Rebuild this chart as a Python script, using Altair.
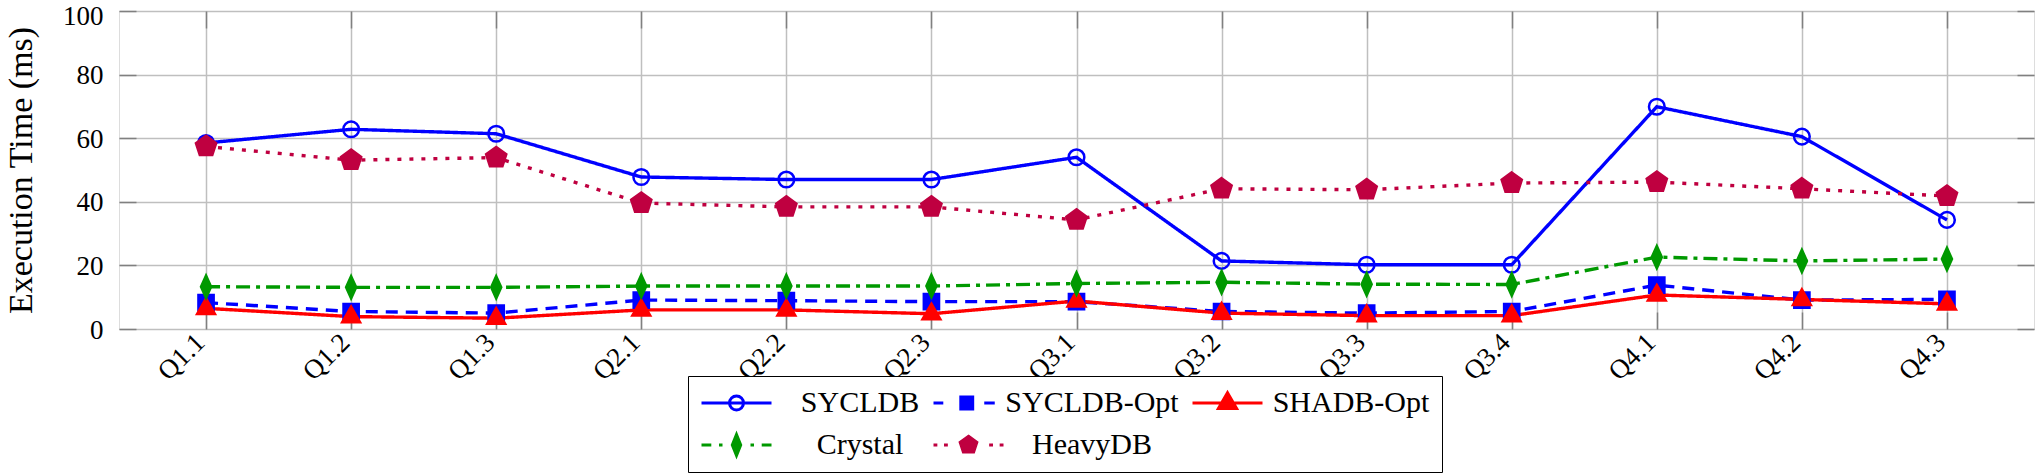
import altair as alt
import pandas as pd

queries = ["Q1.1", "Q1.2", "Q1.3", "Q2.1", "Q2.2", "Q2.3", "Q3.1",
           "Q3.2", "Q3.3", "Q3.4", "Q4.1", "Q4.2", "Q4.3"]
series = ["SYCLDB", "SYCLDB-Opt", "SHADB-Opt", "Crystal", "HeavyDB"]

sycldb = [58.5, 62.8, 61.4, 47.8, 47.0, 47.0, 54.0, 21.4, 20.2, 20.2, 69.9, 60.5, 34.3]
sycldb_opt = [8.3, 5.5, 5.0, 9.1, 8.9, 8.6, 8.6, 5.5, 5.0, 5.5, 13.8, 9.1, 9.3]
shadb_opt = [6.5, 3.9, 3.4, 6.0, 6.0, 4.8, 8.8, 5.0, 4.2, 4.2, 10.7, 9.3, 7.9]
crystal = [13.3, 13.1, 13.1, 13.5, 13.5, 13.5, 14.3, 14.7, 14.1, 14.0, 22.6, 21.4, 22.0]
heavydb = [57.4, 53.1, 53.9, 39.6, 38.4, 38.4, 34.3, 44.1, 43.8, 45.9, 46.2, 44.1, 41.8]

y_ticks = [0, 20, 40, 60, 80, 100]

colors = ["#0000FF", "#0000FF", "#FF0000", "#009900", "#BF0040"]
fills = ["transparent", "#0000FF", "#FF0000", "#009900", "#BF0040"]
dashes = [[1, 0], [12, 8], [1, 0], [14, 6, 4, 6], [4, 8]]

pent = "M0,-0.95L0.9035,-0.2936L0.5584,0.7686L-0.5584,0.7686L-0.9035,-0.2936Z"
marker_paths = [
    "M0.7,0A0.7,0.7 0 1 1 -0.7,0A0.7,0.7 0 1 1 0.7,0Z",
    "M-0.68,-0.68H0.68V0.68H-0.68Z",
    "M0,-0.9L0.8,0.5L-0.8,0.5Z",
    "M0,-1.0L0.45,0L0,1.0L-0.45,0Z",
    pent,
]
legend_paths = [
    "M-1,0H1M0.2,0A0.2,0.2 0 1 1 -0.2,0A0.2,0.2 0 1 1 0.2,0Z",
    "M-1,0H-0.72M0.45,0H0.75M-0.22,-0.17H0.12V0.17H-0.22Z",
    "M-1,0H1M0,-0.29L0.26,0.16L-0.26,0.16Z",
    "M-1,0H-0.72M-0.5,0H-0.4M0.4,0H0.5M0.72,0H1M0,-0.3L0.12,0L0,0.3L-0.12,0Z",
    "M-1,0H-0.89M-0.7,0H-0.59M0.59,0H0.7M0.89,0H1"
    "M0,-0.25L0.238,-0.077L0.147,0.202L-0.147,0.202L-0.238,-0.077Z",
]

rows = []
for s, vals in zip(series, [sycldb, sycldb_opt, shadb_opt, crystal, heavydb]):
    for q, v in zip(queries, vals):
        rows.append({"query": q, "series": s, "value": v})
df = pd.DataFrame(rows)

FONT = "Liberation Serif"
GRID = "#BFBFBF"
TICK = "#808080"

x_scale = alt.Scale(domain=queries, type="point", padding=0.6)
y_scale = alt.Scale(domain=[0, 100], nice=False, zero=True)


def tick_axis(orient, values=None):
    kw = dict(orient=orient, offset=-17, tickSize=17, tickColor=TICK, tickWidth=1.5,
              labels=False, domain=False, grid=False, title=None)
    if values is not None:
        kw["values"] = values
    return alt.Axis(**kw)


x_main = alt.Axis(orient="bottom", title=None, labelAngle=-45, labelAlign="right",
                  labelBaseline="middle", labelPadding=9, labelOffset=-6,
                  labelFont=FONT, labelFontSize=27, labelColor="black",
                  labelOverlap=False, ticks=False, domain=False, grid=True,
                  gridColor=GRID, gridWidth=1.5)
y_main = alt.Axis(orient="left", title="Execution Time (ms)", values=y_ticks,
                  labelFont=FONT, labelFontSize=27, labelColor="black", labelPadding=16,
                  labelOffset={"condition": {"test": "datum.value == 100", "value": 5}, "value": 1},
                  ticks=False, domain=False, grid=True, gridColor=GRID, gridWidth=1.5,
                  titleFont=FONT, titleFontSize=34, titleFontWeight="normal",
                  titleColor="black", titleX=-88, titleY=159, titleAngle=-90,
                  titleAlign="center", titleBaseline="alphabetic")

lines = alt.Chart(df).mark_line(strokeWidth=3.4).encode(
    x=alt.X("query:N", scale=x_scale, axis=x_main),
    y=alt.Y("value:Q", scale=y_scale, axis=y_main),
    stroke=alt.Stroke("series:N", scale=alt.Scale(domain=series, range=colors), legend=None),
    strokeDash=alt.StrokeDash("series:N", scale=alt.Scale(domain=series, range=dashes), legend=None),
    detail="series:N",
)

points = alt.Chart(df).mark_point(filled=True, opacity=1, size=500, strokeWidth=2.5).encode(
    x=alt.X("query:N", scale=x_scale, axis=tick_axis("bottom")),
    y=alt.Y("value:Q", scale=y_scale, axis=tick_axis("left", y_ticks)),
    shape=alt.Shape("series:N", scale=alt.Scale(domain=series, range=marker_paths), legend=None),
    fill=alt.Fill("series:N", scale=alt.Scale(domain=series, range=fills), legend=None),
    stroke=alt.Stroke("series:N", scale=alt.Scale(domain=series, range=colors), legend=None),
)

legend = alt.Legend(title=None, orient="none", legendX=569, legendY=365, columns=3,
                    direction="horizontal", symbolSize=4900, symbolStrokeWidth=3,
                    clipHeight=30,
                    labelFont=FONT, labelFontSize=30, labelColor="black",
                    labelAlign="center", labelOffset=87, labelLimit=400,
                    columnPadding=12, rowPadding=12, padding=12,
                    strokeColor="black", fillColor="white", symbolOffset=0)

legend_layer = alt.Chart(df).transform_filter("false").mark_point(
    filled=True, opacity=1, size=4900, strokeWidth=3).encode(
    x=alt.X("query:N", scale=x_scale, axis=tick_axis("top")),
    y=alt.Y("value:Q", scale=y_scale, axis=tick_axis("right", y_ticks)),
    shape=alt.Shape("series:N", scale=alt.Scale(domain=series, range=legend_paths), legend=legend),
    fill=alt.Fill("series:N", scale=alt.Scale(domain=series, range=fills), legend=legend),
    stroke=alt.Stroke("series:N", scale=alt.Scale(domain=series, range=colors), legend=legend),
)

chart = alt.layer(lines, points, legend_layer).resolve_scale(
    shape="independent", fill="independent", stroke="independent", strokeDash="independent"
).resolve_axis(x="independent", y="independent").properties(
    width=1915, height=318,
    autosize=alt.AutoSizeParams(type="none"),
    padding={"left": 119, "top": 11, "right": 1, "bottom": 147},
).configure_view(stroke="black", strokeWidth=2).configure(font=FONT)

chart.save("out.html", embed_options={"renderer": "svg", "actions": False})
